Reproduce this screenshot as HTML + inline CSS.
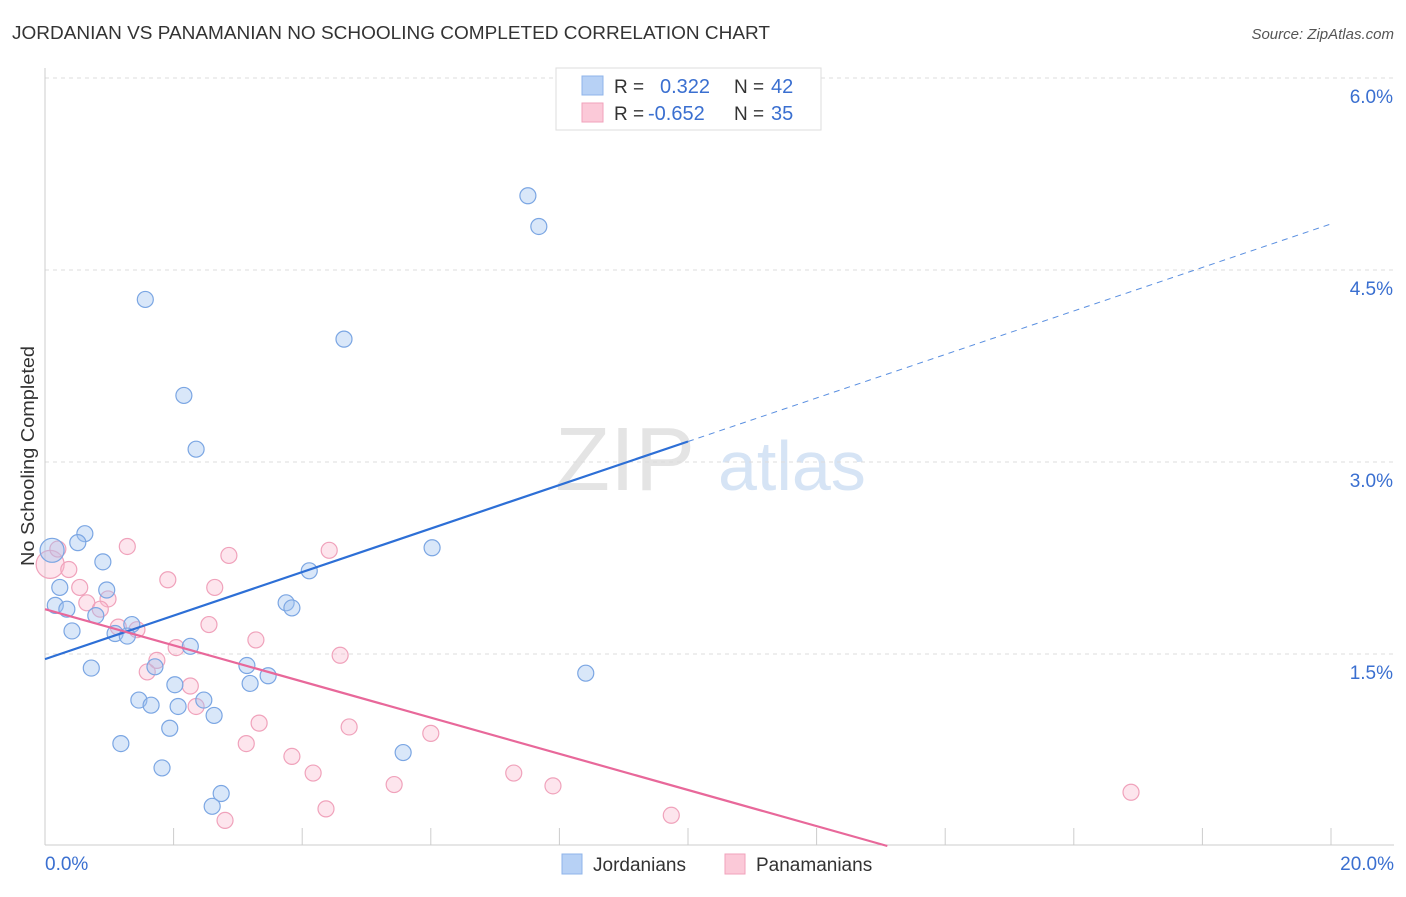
<!DOCTYPE html>
<html><head><meta charset="utf-8"><style>
body{margin:0;background:#fff;font-family:"Liberation Sans",sans-serif;}
svg text{font-family:"Liberation Sans",sans-serif;}
</style></head><body>
<svg id="chart" width="1406" height="892" xmlns="http://www.w3.org/2000/svg">
<text x="12" y="39" font-size="18" fill="#333" textLength="758" lengthAdjust="spacingAndGlyphs">JORDANIAN VS PANAMANIAN NO SCHOOLING COMPLETED CORRELATION CHART</text>
<text x="1394" y="39" font-size="15" fill="#555" font-style="italic" text-anchor="end">Source: ZipAtlas.com</text>
<text x="34" y="456" font-size="18" fill="#333" text-anchor="middle" textLength="220" lengthAdjust="spacingAndGlyphs" transform="rotate(-90 34 456)">No Schooling Completed</text>
<g><text x="555" y="490" font-size="90" fill="#e4e4e4" font-family="Liberation Serif">ZIP</text><text x="718" y="490" font-size="70" fill="#d6e4f5">atlas</text></g>
<g id="grid"></g><g id="axes"></g><g id="pts"></g><g id="lines"></g>
<g>
<rect x="556" y="68" width="265" height="62" fill="#fff" stroke="#ddd"/>
<rect x="582" y="76" width="21" height="19" fill="#b7d1f5" stroke="#8fb4ea"/>
<rect x="582" y="103" width="21" height="19" fill="#fbc9d8" stroke="#f0a2bb"/>
<text x="614" y="93" font-size="19" fill="#333">R = </text><text x="660" y="93" font-size="20" fill="#3a6fd0">0.322</text>
<text x="734" y="93" font-size="19" fill="#333">N = </text><text x="771" y="93" font-size="20" fill="#3a6fd0">42</text>
<text x="614" y="120" font-size="19" fill="#333">R = </text><text x="648" y="120" font-size="20" fill="#3a6fd0">-0.652</text>
<text x="734" y="120" font-size="19" fill="#333">N = </text><text x="771" y="120" font-size="20" fill="#3a6fd0">35</text>
</g>
<g>
<rect x="562" y="854" width="20" height="20" fill="#b7d1f5" stroke="#8fb4ea"/>
<text x="593" y="871" font-size="19" fill="#333">Jordanians</text>
<rect x="725" y="854" width="20" height="20" fill="#fbc9d8" stroke="#f0a2bb"/>
<text x="756" y="871" font-size="19" fill="#333">Panamanians</text>
</g>
</svg>
<script>
const yTicks=[1.5,3.0,4.5,6.0];
const yTickLabels=["1.5%","3.0%","4.5%","6.0%"];
const xLabels=["0.0%","20.0%"];
const jordX=[7.51,7.68,1.56,4.65,2.16,2.35,0.62,0.51,6.02,0.11,0.90,4.11,0.23,0.96,0.16,0.34,3.75,3.84,0.79,1.35,0.42,1.09,1.28,2.26,0.72,1.71,3.14,3.47,8.41,2.02,3.19,1.46,1.65,2.47,2.07,2.63,1.94,5.57,1.18,1.82,2.74,2.60];
const jordY=[5.08,4.84,4.27,3.96,3.52,3.10,2.44,2.37,2.33,2.31,2.22,2.15,2.02,2.00,1.88,1.85,1.90,1.86,1.80,1.73,1.68,1.66,1.64,1.56,1.39,1.40,1.41,1.33,1.35,1.26,1.27,1.14,1.10,1.14,1.09,1.02,0.92,0.73,0.80,0.61,0.41,0.31];
const panX=[0.08,0.20,1.28,2.86,4.42,0.37,1.91,0.54,2.64,0.98,0.65,0.86,1.14,1.43,2.55,3.28,2.04,1.74,4.59,1.59,2.26,2.35,3.33,4.73,6.00,3.13,3.84,4.17,5.43,7.29,7.90,4.37,16.89,9.74,2.80];
const panY=[2.20,2.32,2.34,2.27,2.31,2.16,2.08,2.02,2.02,1.93,1.90,1.85,1.71,1.69,1.73,1.61,1.55,1.45,1.49,1.36,1.25,1.09,0.96,0.93,0.88,0.80,0.70,0.57,0.48,0.57,0.47,0.29,0.42,0.24,0.20];
const jordTrend=[1.46,4.86];
const panTrend=[1.85,0.0,13.1];
const X=v=>45+v*64.3, Y=v=>846-v*128;
const NS="http://www.w3.org/2000/svg";
function mk(p,t,a){const e=document.createElementNS(NS,t);for(const k in a)e.setAttribute(k,a[k]);document.getElementById(p).appendChild(e);return e;}
yTicks.forEach((t,i)=>{
 let l=mk('grid','line',{x1:45,x2:1394,y1:Y(t),y2:Y(t),stroke:'#ddd','stroke-dasharray':'4,4'});
 
 
 let tx=mk('axes','text',{x:1393,y:Y(t)+25,'font-size':19,fill:'#3a6fd0','text-anchor':'end'});
 tx.textContent=yTickLabels[i];
 
 
});
let xa=mk('axes','line',{x1:45,x2:1394,y1:845,y2:845,stroke:'#ccc'});


let ya=mk('axes','line',{x1:45,x2:45,y1:68,y2:845,stroke:'#ccc'});


for(let i=1;i<=10;i++){let t=mk('axes','line',{x1:X(i*2),x2:X(i*2),y1:828,y2:845,stroke:'#ccc'});
 
 }
let x0=mk('axes','text',{x:45,y:870,'font-size':19,fill:'#3a6fd0'});x0.textContent=xLabels[0];


let x1=mk('axes','text',{x:1394,y:870,'font-size':19,fill:'#3a6fd0','text-anchor':'end'});x1.textContent=xLabels[1];


panX.forEach((v,i)=>{let c=mk('pts','circle',{cx:X(v),cy:Y(panY[i]),r:i==0?14:8,fill:'rgba(248,180,202,0.35)',stroke:'#f0a2bb','stroke-width':1.2});
 
 });
jordX.forEach((v,i)=>{let c=mk('pts','circle',{cx:X(v),cy:Y(jordY[i]),r:i==9?12:8,fill:'rgba(160,195,240,0.4)',stroke:'#7ba6e3','stroke-width':1.2});
 
 });
const jy=x=>jordTrend[0]+(jordTrend[1]-jordTrend[0])*x/20;
let b1=mk('lines','line',{x1:X(0),y1:Y(jy(0)),x2:X(10),y2:Y(jy(10)),stroke:'#2d6fd6','stroke-width':2.2});


let b2=mk('lines','line',{x1:X(10),y1:Y(jy(10)),x2:X(20),y2:Y(jy(20)),stroke:'#5a8fe0','stroke-width':1,'stroke-dasharray':'6,5'});


let p1=mk('lines','line',{x1:X(0),y1:Y(panTrend[0]),x2:X(panTrend[2]),y2:Y(panTrend[1]),stroke:'#e8689a','stroke-width':2.2});


</script>
</body></html>
